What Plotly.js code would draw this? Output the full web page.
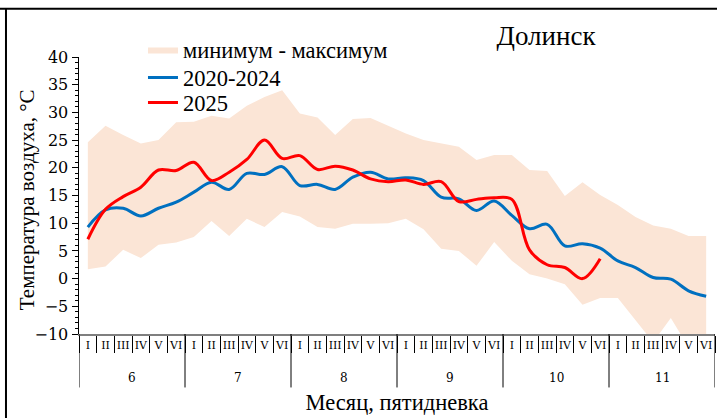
<!DOCTYPE html>
<html><head><meta charset="utf-8">
<script src="https://cdn.plot.ly/plotly-3.0.1.min.js"></script>
<style>html,body{margin:0;padding:0;background:#fff;} #chart{width:717px;height:418px;}</style>
</head><body><div id="chart"></div>
<script>
const months = ['6','7','8','9','10','11'];
const pentads = ['I','II','III','IV','V','VI'];
const bandMin = [1.7,2.2,5.2,3.7,6.1,6.5, 7.5,10.4,7.7,10.8,9.3,12.0, 11.2,9.3,9.0,9.9,9.9,10.0, 10.8,8.9,5.4,5.0,2.3,6.6, 3.2,0.8,0.0,-1.0,-4.7,-3.5, -3.5,-7.6,-11.5,-7.1,-12.4,-12.0];
const bandMax = [24.6,27.6,25.9,24.4,25.0,28.2, 28.3,29.4,28.9,31.2,32.8,34.0, 29.8,29.1,25.9,28.8,29.0,27.6, 26.2,25.0,24.4,23.8,21.4,22.3, 22.3,19.6,19.4,14.9,17.4,15.1, 13.3,11.1,9.6,9.0,7.7,7.7];
const mean2020_2024 = [9.3,12.4,12.7,11.3,12.7,13.8, 15.6,17.4,16.1,19.0,18.8,20.2, 16.8,17.0,16.1,18.3,19.2,18.0, 18.2,17.7,14.7,14.4,12.3,14.0, 11.4,9.0,9.8,5.9,6.3,5.5, 3.2,2.0,0.2,-0.1,-2.2,-3.2];
const t2025 = [7.1,12.5,14.8,16.5,19.6,19.5, 21.0,17.7,19.2,21.5,25.0,21.7, 22.2,19.7,20.3,19.6,18.0,17.5, 17.8,17.0,17.5,13.9,14.3,14.6, 14.3,5.2,2.5,2.0,0.0,3.6];
const seriesNames = ['минимум - максимум','2020-2024','2025'];
const chartTitle = 'Долинск';
const xTitle = 'Месяц, пятидневка';
const yTitle = 'Температура воздуха, °С';

const serif = '"Liberation Serif", "Times New Roman", serif';
const wideSerif = '"DejaVu Serif", serif';
const np = pentads.length;
const xs = [], xt = [];
months.forEach((m, mi) => pentads.forEach((p, pi) => { xs.push(mi * np + pi); xt.push(p); }));

const traces = [
  {x: xs, y: bandMin, mode: 'lines', line: {width: 0, color: 'rgba(0,0,0,0)'}, showlegend: false, hoverinfo: 'skip'},
  {x: xs, y: bandMax, mode: 'lines', fill: 'tonexty', fillcolor: '#FBE5D6', line: {width: 0, color: '#FBE5D6'}, name: seriesNames[0], legend: 'legend'},
  {x: xs, y: mean2020_2024, mode: 'lines', line: {color: '#0070C0', width: 3, shape: 'spline', smoothing: 1}, name: seriesNames[1], legend: 'legend2'},
  {x: xs.slice(0, t2025.length), y: t2025, mode: 'lines', line: {color: '#FF0000', width: 3, shape: 'spline', smoothing: 1}, name: seriesNames[2], legend: 'legend3'}
];

const shapes = [];
const annotations = [];
months.forEach((m, mi) => {
  annotations.push({x: mi * np + (np - 1) / 2, y: -0.1606, xref: 'x', yref: 'paper', text: m, showarrow: false,
    yanchor: 'middle', font: {family: wideSerif, size: 12, color: '#000'}});
});
// y axis title placed as rotated text beside the axis
annotations.push({x: (27 - 79) / 636, y: (333.6 - 200) / 276.5, xref: 'paper', yref: 'paper', text: yTitle, textangle: -90,
  showarrow: false, xanchor: 'center', yanchor: 'middle', font: {family: serif, size: 21, color: '#000'}});
for (let mi = 0; mi <= months.length; mi++) {
  shapes.push({type: 'line', xref: 'x', yref: 'paper', x0: mi * np - 0.5, x1: mi * np - 0.5, y0: 0, y1: -0.193,
    line: {color: '#000', width: 1}});
}
// outer frame lines
shapes.push({type: 'line', xref: 'paper', yref: 'paper', x0: -0.2, x1: 1.1, y0: 1.174, y1: 1.174, line: {color: '#000', width: 2}});
shapes.push({type: 'line', xref: 'paper', yref: 'paper', x0: -0.1148, x1: -0.1148, y0: 1.174, y1: -0.35, line: {color: '#000', width: 2}});

const legendBase = {x: 0.1006, xanchor: 'left', yanchor: 'middle', bgcolor: 'rgba(0,0,0,0)',
  font: {family: serif, size: 22.5, color: '#000'}, borderwidth: 0};
const layout = {
  width: 717, height: 418,
  margin: {l: 79, r: 2, t: 57, b: 84},
  paper_bgcolor: '#fff', plot_bgcolor: '#fff',
  font: {family: serif, color: '#000'},
  title: {text: chartTitle, font: {family: serif, size: 27, color: '#000'}, x: 546 / 717, xanchor: 'center', y: 1 - 36 / 418, yanchor: 'middle'},
  showlegend: true,
  legend: Object.assign({}, legendBase, {y: (333.6 - 50) / 276.5}),
  legend2: Object.assign({}, legendBase, {y: (333.6 - 78) / 276.5}),
  legend3: Object.assign({}, legendBase, {y: (333.6 - 103) / 276.5}),
  xaxis: {
    range: [-0.5, xs.length - 0.5], tickmode: 'array', tickvals: xs, ticktext: xt, ticks: '',
    showline: true, linecolor: '#7f7f7f', linewidth: 2, showgrid: false, zeroline: false,
    tickfont: {family: wideSerif, size: 11, color: '#000'},
    minor: {tick0: -0.5, dtick: 1, ticks: 'outside', ticklen: 17, tickcolor: '#000', tickwidth: 1, showgrid: false},
    title: {text: xTitle, font: {family: serif, size: 22.5, color: '#000'}, standoff: 43},
    fixedrange: true
  },
  yaxis: {
    range: [-10, 40], dtick: 5, ticks: 'outside', ticklen: 6, tickcolor: '#000', tickwidth: 1,
    showline: true, linecolor: '#000', linewidth: 1.5, showgrid: false, zeroline: false,
    tickfont: {family: wideSerif, size: 16, color: '#000'},
    minor: {dtick: 1, ticks: 'outside', ticklen: 3, tickcolor: '#000', tickwidth: 1, showgrid: false},
    fixedrange: true
  },
  shapes: shapes,
  annotations: annotations
};
Plotly.newPlot('chart', traces, layout, {displayModeBar: false, staticPlot: true});
</script>
</body></html>
